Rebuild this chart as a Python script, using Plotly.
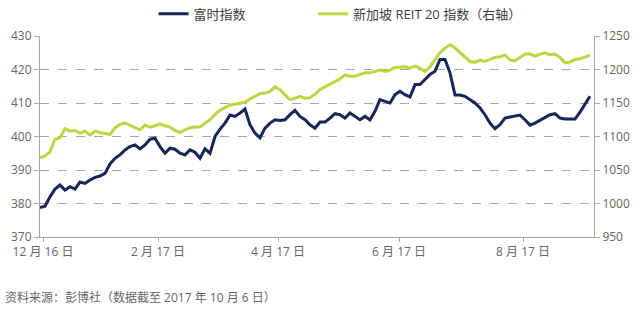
import plotly.graph_objects as go

# ---- data ----
ftse = [378.8, 379.2, 382.0, 384.3, 385.5, 384.0, 385.0, 384.3, 386.4, 386.0,
        387.0, 387.8, 388.2, 389.0, 391.8, 393.5, 394.5, 396.0, 397.0, 397.5,
        396.3, 397.5, 399.2, 399.5, 397.0, 395.0, 396.5, 396.2, 395.0, 394.5,
        396.0, 395.3, 393.5, 396.3, 395.0, 400.0, 402.2, 404.0, 406.4, 406.0,
        407.0, 408.2, 403.5, 401.0, 399.6, 402.5, 404.0, 405.0, 404.8, 405.0,
        406.5, 407.8, 406.0, 405.0, 403.5, 402.5, 404.3, 404.3, 405.5, 406.8,
        406.5, 405.5, 407.0, 406.0, 405.0, 406.0, 405.0, 407.5, 411.0, 410.5,
        410.0, 412.5, 413.5, 412.5, 411.8, 415.5, 415.5, 417.0, 418.5, 419.5,
        423.0, 423.0, 419.0, 412.4, 412.4, 412.0, 411.0, 410.0, 408.5, 406.5,
        404.0, 402.3, 403.5, 405.5, 405.8, 406.0, 406.4, 405.0, 403.4, 404.0,
        404.8, 405.5, 406.5, 406.8, 405.5, 405.2, 405.2, 405.2, 407.3, 409.5,
        412.0]

reit = [1068, 1071, 1077, 1096, 1098, 1112, 1108, 1109, 1105, 1108,
        1102, 1108, 1106, 1104, 1103, 1113, 1118, 1120, 1117, 1113,
        1110, 1117, 1114, 1116, 1119, 1116, 1114, 1109, 1106, 1110,
        1113, 1114, 1114, 1120, 1125, 1133, 1139, 1143, 1147, 1148,
        1150, 1151, 1156, 1160, 1164, 1165, 1167, 1174, 1170, 1162,
        1155, 1157, 1160, 1157, 1158, 1163, 1170, 1174, 1178, 1182,
        1186, 1192, 1190, 1190, 1193, 1195, 1195, 1197, 1199, 1197,
        1199, 1203, 1204, 1204, 1202, 1205, 1202, 1197, 1204, 1215,
        1225, 1232, 1237, 1232, 1225, 1218, 1212, 1211, 1214, 1212,
        1215, 1218, 1219, 1222, 1214, 1213, 1218, 1223, 1223, 1220,
        1223, 1225, 1222, 1223, 1218, 1210, 1211, 1215, 1216, 1218,
        1221]

x_idx = list(range(len(ftse)))
tick_pos = [0.6, 23.6, 47.6, 71.8, 96.6]
tick_text = ["12 月 16 日", "2 月 17 日", "4 月 17 日", "6 月 17 日", "8 月 17 日"]
left_ticks = [370, 380, 390, 400, 410, 420, 430]
right_ticks = [950, 1000, 1050, 1100, 1150, 1200, 1250]
name_ftse = "富时指数"
name_reit = "新加坡 REIT 20 指数（右轴）"
source_text = "资料来源：彭博社（数据截至 2017 年 10 月 6 日）"

NAVY = "#15265e"
LIME = "#bdd642"
GRID = "#a6a6a6"
TXT = "#666666"
FONT = "Open Sans, Noto Sans CJK SC, sans-serif"

fig = go.Figure()
fig.add_trace(go.Scatter(x=x_idx, y=ftse, mode="lines", name=name_ftse,
                         line=dict(color=NAVY, width=3), yaxis="y", legend="legend"))
fig.add_trace(go.Scatter(x=x_idx, y=reit, mode="lines", name=name_reit,
                         line=dict(color=LIME, width=3), yaxis="y2", legend="legend2"))

leg_common = dict(orientation="h", yanchor="middle", xanchor="left", y=1.11,
                  font=dict(size=13, color="#404040"), bgcolor="rgba(0,0,0,0)",
                  itemwidth=30)

fig.update_layout(
    width=640, height=311,
    margin=dict(l=40, r=46, t=36, b=74, autoexpand=False),
    paper_bgcolor="white", plot_bgcolor="white",
    font=dict(family=FONT, size=12, color=TXT),
    showlegend=True,
    legend=dict(x=0.205, **leg_common),
    legend2=dict(x=0.493, **leg_common),
    xaxis=dict(range=[0, 110.8], tickmode="array", tickvals=tick_pos, ticktext=tick_text,
               showgrid=False, zeroline=False, showline=True, linecolor=GRID, linewidth=1,
               ticks="outside", ticklen=4, tickcolor=GRID,
               tickfont=dict(size=12, color=TXT)),
    yaxis=dict(range=[370, 430], tickmode="array", tickvals=left_ticks,
               showgrid=True, gridcolor=GRID, griddash="dash", gridwidth=1,
               zeroline=False, showline=True, linecolor=GRID, linewidth=1,
               ticks="outside", ticklen=5, tickcolor=GRID,
               tickfont=dict(size=12, color=TXT)),
    yaxis2=dict(range=[950, 1250], tickmode="array", tickvals=right_ticks,
                overlaying="y", side="right", showgrid=False, zeroline=False,
                showline=True, linecolor=GRID, linewidth=1,
                ticks="outside", ticklen=5, tickcolor=GRID,
                tickfont=dict(size=12, color=TXT)),
    annotations=[dict(text=source_text, xref="paper", yref="paper",
                      x=-0.067, y=-0.30, xanchor="left", yanchor="middle",
                      showarrow=False, font=dict(size=12, color=TXT))],
)

fig.write_html("out.html")
